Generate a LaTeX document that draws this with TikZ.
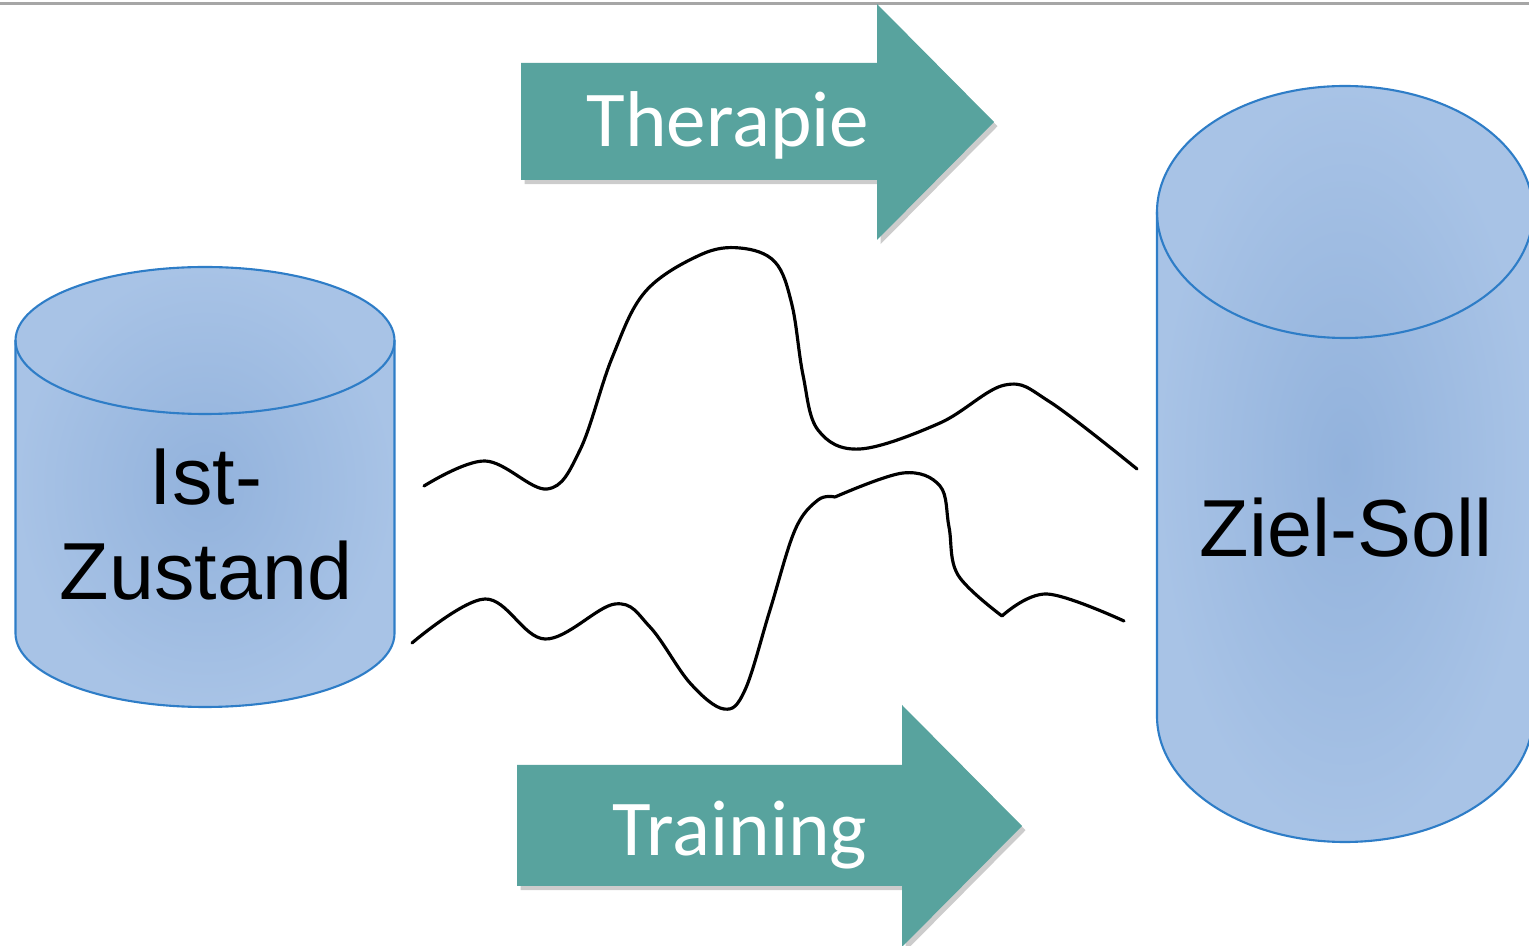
\documentclass[tikz,border=0pt]{standalone}
\usepackage{fontspec}
\setmainfont{Liberation Sans}
\newfontfamily\calibri{Carlito}
\usetikzlibrary{shadows}

\definecolor{pfeilgruen}{RGB}{88,163,158}
\definecolor{zylrand}{RGB}{46,125,199}
\definecolor{zylaussen}{RGB}{168,195,230}
\definecolor{zylinnen}{RGB}{146,178,220}

\tikzset{
  zylinder/.style={inner color=zylinnen, outer color=zylaussen},
  zyllinie/.style={draw=zylrand, line width=0.6pt},
  pfeil/.style={fill=pfeilgruen, drop shadow={shadow xshift=1pt, shadow yshift=-1.2pt, opacity=0.4}},
  pfeiltext/.style={text=white, font=\calibri\fontsize{22.5}{27}\selectfont, anchor=base, inner sep=0pt},
  zyltext/.style={font=\fontsize{23}{27}\selectfont, align=center},
  welle/.style={black, line width=0.9pt, line cap=round}
}

\begin{document}
\begin{tikzpicture}[x=0.01cm, y=-0.01cm]
  \useasboundingbox (0,0) rectangle (1529,946);
  \draw[gray!70, line width=0.6pt] (0,3.5) -- (1529,3.5);

  % Ist-Zustand
  \shade[zylinder] (15.5,340.5) -- (15.5,633.5) arc (180:0:189.5 and 73.5)
    -- (394.5,340.5) arc (0:-180:189.5 and 73.5) -- cycle;
  \draw[zyllinie] (15.5,340.5) -- (15.5,633.5) arc (180:0:189.5 and 73.5) -- (394.5,340.5);
  \draw[zyllinie] (205,340.5) ellipse [x radius=189.5, y radius=73.5];
  \node[zyltext] (ist) at (206,525) {Ist-\\Zustand};

  % Ziel-Soll
  \shade[zylinder] (1157,212) -- (1157,716) arc (180:0:188 and 126)
    -- (1533,212) arc (0:-180:188 and 126) -- cycle;
  \draw[zyllinie] (1157,212) -- (1157,716) arc (180:0:188 and 126) -- (1533,212);
  \draw[zyllinie] (1345,212) ellipse [x radius=188, y radius=126];
  \node[zyltext] (ziel) at (1346,528) {Ziel-Soll};

  % Pfeile
  \path[pfeil] (521,63) -- (877,63) -- (877,4) -- (994,122) -- (877,240)
    -- (877,180) -- (521,180) -- cycle;
  \node[pfeiltext] (therapie) at (728,147) {Therapie};
  \path[pfeil] (517,765) -- (902,765) -- (902,705) -- (1022,826) -- (902,947)
    -- (902,886) -- (517,886) -- cycle;
  \node[pfeiltext] (training) at (740,856) {Training};

  % Wege
  \draw[welle] plot[smooth, tension=0.6] coordinates {(424,486) (485,461) (547,489)
    (580,450) (612,358) (645,292) (700,255) (740,248) (775,262) (792,305) (803,375)
    (818,430) (860,449) (940,423) (1005,385) (1050,402) (1137,469)};
  \draw[welle] plot[smooth, tension=0.6] coordinates {(412,643) (485,599) (545,639)
    (615,604) (650,627) (690,683) (724,709) (745,690) (770,610) (795,530) (818,500)
    (835,497)}
    plot[smooth, tension=0.6] coordinates {(835,497) (903,473) (940,486) (949,527)
    (958,575) (1002,616)}
    plot[smooth, tension=0.6] coordinates {(1002,616) (1047,594) (1124,621)};
\end{tikzpicture}
\end{document}
